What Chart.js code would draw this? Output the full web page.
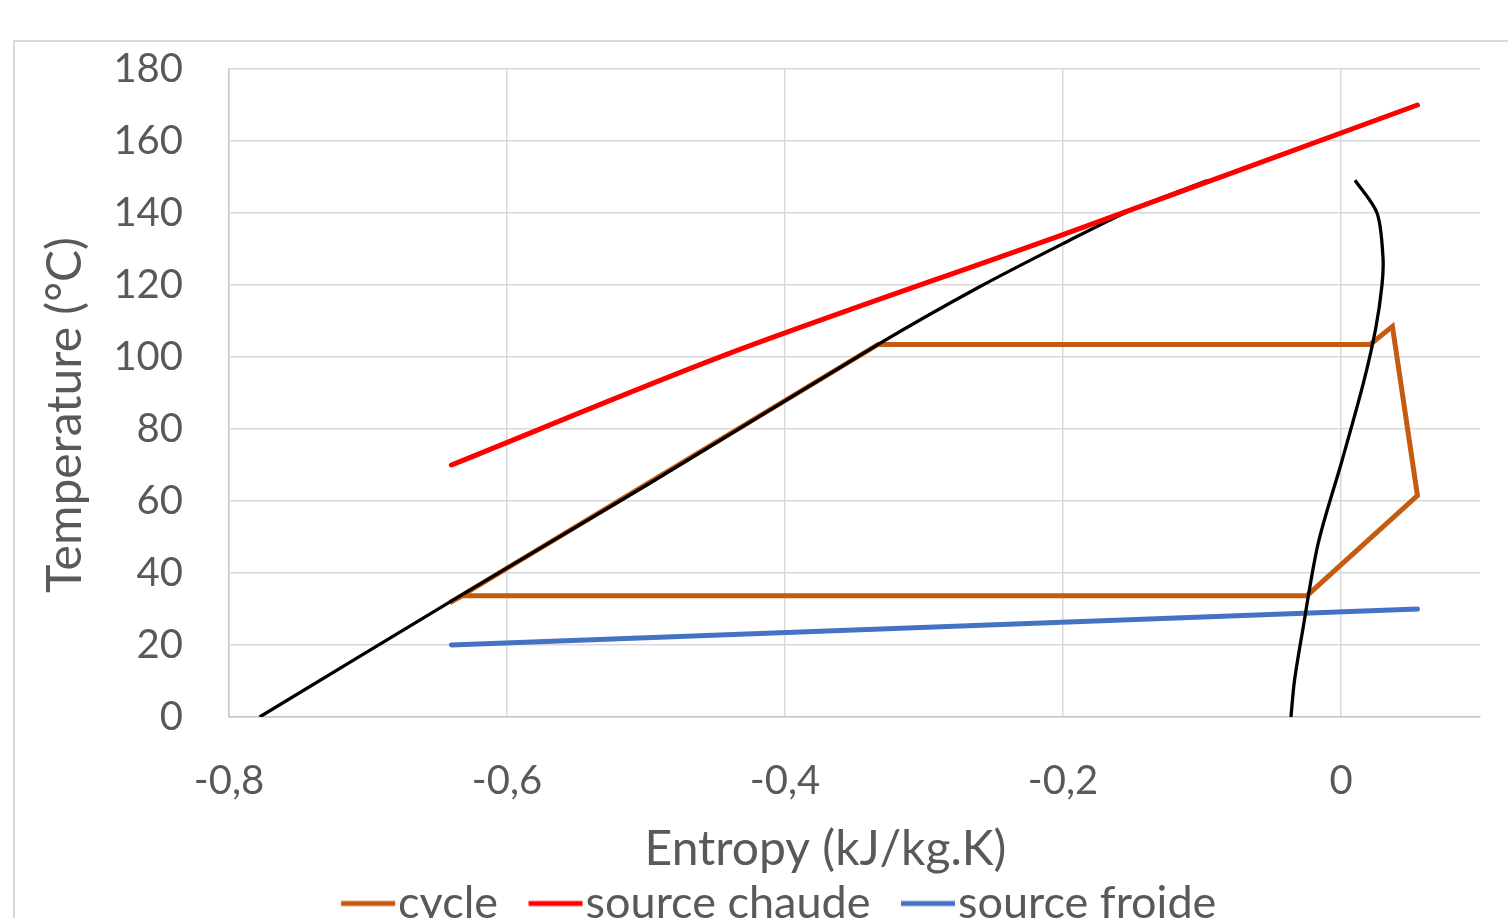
<!DOCTYPE html>
<html>
<head>
<meta charset="utf-8">
<script src="https://cdn.jsdelivr.net/npm/chart.js@4.4.1/dist/chart.umd.min.js"></script>
<style>
    html, body { margin: 0; padding: 0; background: #fff; overflow: hidden; width: 1508px; height: 918px; }
    #cadre { position: absolute; left: 13px; top: 40px; border-left: 2px solid #d9d9d9; border-top: 2px solid #d9d9d9; }
    canvas { display: block; }
</style>
</head>
<body>
<div id="cadre"><canvas id="grafico" width="1520" height="921"></canvas></div>
<script>
const cycleEntropie    = [-0.641, -0.333, 0.021, 0.037, 0.055, -0.0245, -0.632, -0.641];
const cycleTemperature = [31.8, 103.5, 103.5, 108.5, 61.5, 33.7, 33.7, 31.8];

const chaudeEntropie    = [-0.64, -0.44, -0.2, 0.055];
const chaudeTemperature = [70, 101, 134, 170];

const froideEntropie    = [-0.64, 0.055];
const froideTemperature = [20, 30];

// courbe de saturation (liquide puis vapeur)
const liquideEntropie    = [-0.778, -0.641, -0.5, -0.333, -0.26, -0.2, -0.15, -0.096];
const liquideTemperature = [0, 32, 64.3, 103.5, 119.5, 131.5, 141, 149];

const vapeurEntropie    = [0.0101, 0.0259, 0.0302, 0.0295, 0.025, 0.016, 0.0007, -0.0165, -0.028, -0.0335, -0.036];
const vapeurTemperature = [149.1, 140, 127.7, 120, 108, 92.6, 71.2, 48.1, 23.1, 10, 0];

const ticksX = { min: -0.8, max: 0.1, pas: 0.2 };
const ticksY = { min: 0, max: 180, pas: 20 };

const COR_TEXTO = '#595959';
const COR_GRADE = '#d9d9d9';

function pontos(xs, ys) {
    return xs.map((x, i) => ({ x: x, y: ys[i] }));
}

// petit trait de légende, décalé vers la droite de la boîte
function marqueur(cor) {
    const c = document.createElement('canvas');
    c.width = 76;
    c.height = 8;
    const ctx = c.getContext('2d');
    ctx.strokeStyle = cor;
    ctx.lineWidth = 5;
    ctx.beginPath();
    ctx.moveTo(21, 4);
    ctx.lineTo(75, 4);
    ctx.stroke();
    return c;
}

// déplace le titre d'un axe sans toucher à l'axe lui-même
function decalerTitre(scale, a, b, d) {
    const original = Object.getPrototypeOf(scale).drawTitle;
    scale.drawTitle = function () {
        this[a] += d; this[b] += d;
        original.call(this);
        this[a] -= d; this[b] -= d;
    };
}

const ajustements = {
    id: 'ajustements',
    afterLayout(chart) {
        const l = chart.legend;
        l.left += 31; l.right += 31;
        l.top -= 27; l.bottom -= 27;
        decalerTitre(chart.scales.x, 'left', 'right', -29);
        decalerTitre(chart.scales.y, 'top', 'bottom', 22);
    }
};

Chart.defaults.font.family = 'Lato, "Open Sans", sans-serif';

new Chart(document.getElementById('grafico'), {
    type: 'scatter',
    data: {
        datasets: [
            { label: 'cycle', data: pontos(cycleEntropie, cycleTemperature), borderColor: '#C55A11', backgroundColor: '#C55A11', borderWidth: 5, showLine: true, pointRadius: 0, tension: 0, order: 2 },
            { label: 'source chaude', data: pontos(chaudeEntropie, chaudeTemperature), borderColor: '#FF0000', backgroundColor: '#FF0000', borderWidth: 5, showLine: true, pointRadius: 0, tension: 0.3, order: 0, borderCapStyle: 'round' },
            { label: 'source froide', data: pontos(froideEntropie, froideTemperature), borderColor: '#4472C4', backgroundColor: '#4472C4', borderWidth: 5, showLine: true, pointRadius: 0, tension: 0, order: 3, borderCapStyle: 'round' },
            { label: 'liquide', data: pontos(liquideEntropie, liquideTemperature), borderColor: '#000', borderWidth: 3.3, showLine: true, pointRadius: 0, tension: 0.3, order: 1 },
            { label: 'vapeur', data: pontos(vapeurEntropie, vapeurTemperature), borderColor: '#000', borderWidth: 3.3, showLine: true, pointRadius: 0, tension: 0.3, order: 1 }
        ]
    },
    options: {
        responsive: false,
        animation: false,
        devicePixelRatio: 1,
        layout: { padding: { top: 27, right: 55, left: 0, bottom: 0 } },
        plugins: {
            tooltip: { enabled: false },
            legend: {
                position: 'bottom',
                labels: {
                    usePointStyle: true,
                    pointStyleWidth: 35,
                    padding: 30,
                    color: COR_TEXTO,
                    font: { size: 45 },
                    generateLabels(chart) {
                        return chart.data.datasets.slice(0, 3).map((ds, i) => ({
                            text: ds.label,
                            pointStyle: marqueur(ds.borderColor),
                            fillStyle: ds.borderColor,
                            strokeStyle: ds.borderColor,
                            lineWidth: 0,
                            hidden: false,
                            datasetIndex: i,
                            fontColor: COR_TEXTO
                        }));
                    }
                }
            }
        },
        scales: {
            x: {
                type: 'linear',
                min: ticksX.min,
                max: ticksX.max,
                afterFit(scale) { scale.height = 161; },
                ticks: {
                    stepSize: ticksX.pas,
                    includeBounds: false,
                    color: COR_TEXTO,
                    padding: 40,
                    font: { size: 40 },
                    callback: (v) => Math.abs(v) < 1e-9 ? '0' : v.toFixed(1).replace('.', ',')
                },
                grid: { color: COR_GRADE, lineWidth: 1.5, drawTicks: false },
                border: { color: '#c8c8c8', width: 1.5 },
                title: { display: true, text: 'Entropy (kJ/kg.K)', color: COR_TEXTO, font: { size: 48 }, padding: 0 }
            },
            y: {
                min: ticksY.min,
                max: ticksY.max,
                afterFit(scale) {
                    scale.width = 214;
                    scale.paddingTop = 20;
                    scale.paddingBottom = 20;
                },
                ticks: {
                    stepSize: ticksY.pas,
                    color: COR_TEXTO,
                    padding: 46,
                    font: { size: 40 }
                },
                grid: { color: COR_GRADE, lineWidth: 1.5, drawTicks: false },
                border: { color: '#c8c8c8', width: 1.5 },
                title: { display: true, text: 'Temperature (°C)', color: COR_TEXTO, font: { size: 48 }, padding: { top: 22, bottom: 0 } }
            }
        }
    },
    plugins: [ajustements]
});
</script>
</body>
</html>
